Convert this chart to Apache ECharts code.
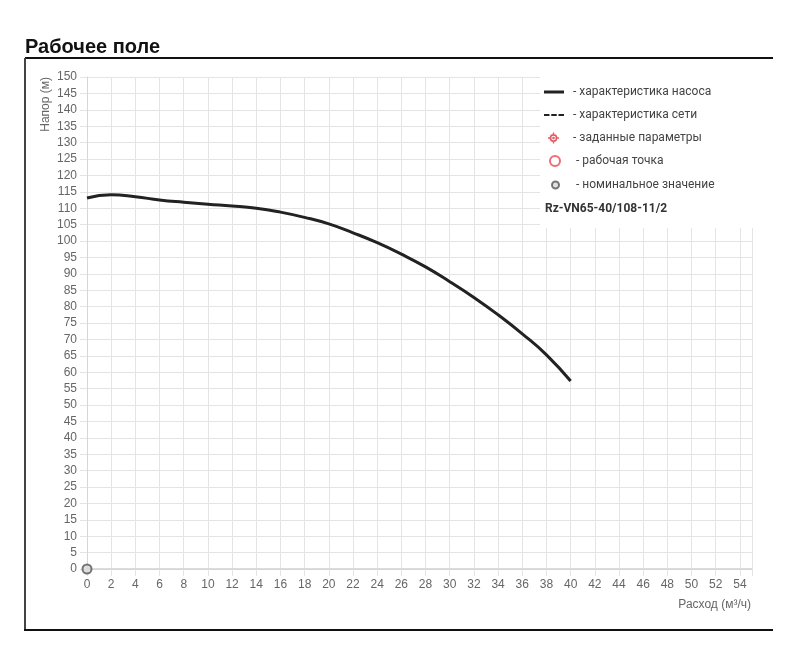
<!DOCTYPE html>
<html>
<head>
<meta charset="UTF-8">
<title>Рабочее поле</title>
<style>
  html, body { margin: 0; padding: 0; background: #fff; }
  #chart { width: 800px; height: 665px; }
</style>
</head>
<body>
<div id="chart"></div>
<script src="https://cdn.jsdelivr.net/npm/echarts@6/dist/echarts.min.js"></script>
<script>
  // расход, м³/ч
  const flowQ = [0, 2, 4, 6, 8, 10, 12, 14, 16, 18, 20, 22, 24, 26, 28, 30, 32, 34, 36, 38, 40];
  // напор, м
  const headH = [113.1, 114.1, 113.5, 112.5, 111.8, 111.2, 110.7, 110.0, 108.8, 107.2, 105.2,
                 102.5, 99.5, 96.0, 92.1, 87.6, 82.8, 77.5, 71.7, 65.3, 57.3];
  // номинальное значение
  const nominalPoint = [[0, 0]];
  const legendNames = ['характеристика насоса', 'характеристика сети', 'заданные параметры',
                       'рабочая точка', 'номинальное значение'];
  const modelName = 'Rz-VN65-40/108-11/2';

  const labelFont = '"Liberation Sans", Arial, sans-serif';
  const legendFont = 'Roboto, "Noto Sans", sans-serif';
  const gridColor = '#e4e4e4';

  // значки легенды
  const solidIcon = 'path://M0,0H20V3H0Z';
  const dashedIcon = 'path://M0,0H5.5V2H0ZM7.25,0H12.75V2H7.25ZM14.5,0H20V2H14.5Z';
  const targetIcon = 'path://M0,-6A6,6 0 1 1 0,6A6,6 0 1 1 0,-6Z' +
    'M0,-3.4A3.4,3.4 0 1 0 0,3.4A3.4,3.4 0 1 0 0,-3.4Z' +
    'M0,-2A2,2 0 1 1 0,2A2,2 0 1 1 0,-2Z' +
    'M-1.1,-8.5L1.1,-8.5L1.1,-5.5L-1.1,-5.5Z' +
    'M-1.1,5.5L1.1,5.5L1.1,8.5L-1.1,8.5Z' +
    'M-8.5,-1.1L-5.5,-1.1L-5.5,1.1L-8.5,1.1Z' +
    'M5.5,-1.1L8.5,-1.1L8.5,1.1L5.5,1.1Z';

  const chart = echarts.init(document.getElementById('chart'));

  function legendRow(name, left, top, itemWidth, itemHeight, icon, textPad) {
    return {
      orient: 'vertical',
      left: left,
      top: top,
      padding: 0,
      itemWidth: itemWidth,
      itemHeight: itemHeight,
      selectedMode: false,
      data: [icon ? { name: name, icon: icon } : name],
      formatter: n => '- ' + n,
      textStyle: { color: '#444', fontSize: 12, fontFamily: legendFont, padding: [0, 0, 0, textPad] }
    };
  }

  const option = {
    animation: false,
    title: [
      {
        text: 'Рабочее поле',
        left: 25, top: 37, padding: 0,
        textStyle: { fontSize: 20, fontWeight: 'bold', color: '#111', fontFamily: labelFont }
      },
      {
        text: modelName,
        left: 545, top: 203, padding: 0,
        textStyle: { fontSize: 12, fontWeight: 'bold', color: '#333', fontFamily: legendFont }
      }
    ],
    legend: [
      legendRow(legendNames[0], 544, 86, 20, 14, solidIcon, 4),
      legendRow(legendNames[1], 544, 109, 20, 14, dashedIcon, 4),
      legendRow(legendNames[2], 548, 132, 11, 11, targetIcon, 9),
      legendRow(legendNames[3], 549, 155, 10, 10, null, 11),
      legendRow(legendNames[4], 551, 179, 7, 7, null, 12)
    ],
    grid: { left: 87, right: 48, top: 77, bottom: 96 },
    xAxis: {
      type: 'value',
      min: 0, max: 55, interval: 2,
      axisLine: { show: true, lineStyle: { color: '#cfcfcf', width: 1.5 } },
      axisTick: { show: true, length: 7, lineStyle: { color: gridColor } },
      splitLine: { show: true, lineStyle: { color: gridColor } },
      axisLabel: {
        color: '#666', fontSize: 12, fontFamily: labelFont, margin: 10,
        formatter: v => (v % 2 === 0 ? String(v) : '')
      }
    },
    yAxis: {
      type: 'value',
      min: 0, max: 150, interval: 5,
      axisLine: { show: true, lineStyle: { color: '#d6d6d6' } },
      axisTick: { show: true, length: 7, lineStyle: { color: gridColor } },
      splitLine: { show: true, lineStyle: { color: gridColor } },
      axisLabel: { color: '#666', fontSize: 12, fontFamily: labelFont, margin: 10 }
    },
    graphic: [
      { type: 'rect', z: 3, shape: { x: 540, y: 72, width: 225, height: 156 }, style: { fill: '#fff' } },
      { type: 'line', shape: { x1: 25, y1: 58, x2: 773, y2: 58 }, style: { stroke: '#111', lineWidth: 2 } },
      { type: 'line', shape: { x1: 25, y1: 58, x2: 25, y2: 631 }, style: { stroke: '#444', lineWidth: 2 } },
      { type: 'line', shape: { x1: 24, y1: 630, x2: 773, y2: 630 }, style: { stroke: '#111', lineWidth: 2 } },
      {
        type: 'text', x: 46, y: 77, rotation: Math.PI / 2,
        style: { text: 'Напор (м)', align: 'right', verticalAlign: 'middle',
                 fill: '#666', fontSize: 12, fontFamily: labelFont }
      },
      {
        type: 'text', x: 751, y: 605,
        style: { text: 'Расход (м³/ч)', align: 'right', verticalAlign: 'middle',
                 fill: '#666', fontSize: 12, fontFamily: labelFont }
      }
    ],
    series: [
      {
        name: legendNames[0],
        type: 'line',
        smooth: true,
        symbol: 'none',
        data: flowQ.map((q, i) => [q, headH[i]]),
        lineStyle: { color: '#222', width: 3 },
        itemStyle: { color: '#222' }
      },
      {
        name: legendNames[1],
        type: 'line',
        symbol: 'none',
        data: [],
        lineStyle: { color: '#222', width: 2, type: [4, 3] },
        itemStyle: { color: '#222' }
      },
      {
        name: legendNames[2],
        type: 'scatter',
        symbol: targetIcon,
        data: [],
        itemStyle: { color: '#e0323c' }
      },
      {
        name: legendNames[3],
        type: 'scatter',
        symbol: 'circle',
        data: [],
        itemStyle: { color: '#fff', borderColor: '#e64a52', borderWidth: 1.5 }
      },
      {
        name: legendNames[4],
        type: 'scatter',
        symbol: 'circle',
        symbolSize: 9,
        clip: false,
        z: 5,
        data: nominalPoint,
        itemStyle: { color: '#d8d8d8', borderColor: '#555', borderWidth: 2 }
      }
    ]
  };

  chart.setOption(option);
  window.addEventListener('resize', () => chart.resize());
</script>
</body>
</html>
